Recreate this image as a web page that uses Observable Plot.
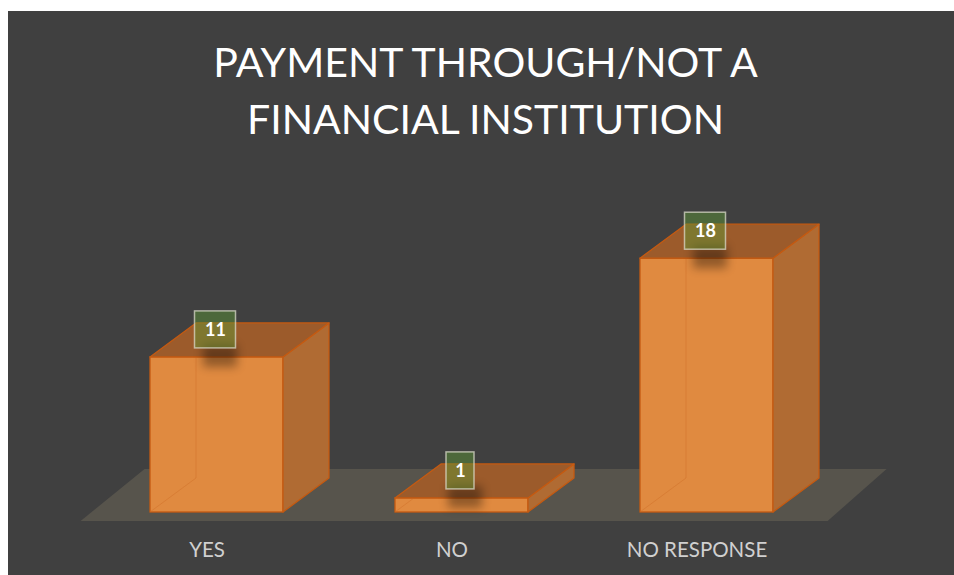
<!DOCTYPE html>
<html><head><meta charset="utf-8">
<script src="https://cdn.jsdelivr.net/npm/d3@7"></script>
<script src="https://cdn.jsdelivr.net/npm/@observablehq/plot@0.6"></script>
<style>
html,body{margin:0;padding:0;background:#fff;}
#frame{position:absolute;left:8px;top:11px;width:946px;height:564px;background:#404040;overflow:hidden;}
#title{position:absolute;left:0;top:0;width:955px;padding-top:22px;text-align:center;color:#fff;font-family:Lato,"Open Sans",sans-serif;font-size:41px;line-height:57px;}
#chart{position:absolute;left:0;top:139px;}
</style></head>
<body>
<div id="frame">
  <div id="title">PAYMENT THROUGH/NOT A<br>FINANCIAL INSTITUTION</div>
  <div id="chart"></div>
</div>
<script>
const categories = ["YES", "NO", "NO RESPONSE"];
const values = [11, 1, 18];
const data = categories.map((c, i) => ({category: c, value: values[i]}));

// 3-D look (pixel depth of the oblique projection)
const DX = 46, DY = -34;
const FRONT = "#E08A40", TOP = "#9C5B2B", SIDE = "#B06B33", EDGE = "#C55A11";

function floorMark(index, scales) {
  const x = scales.x, y = scales.y;
  const [r0, r1] = x.range();
  const y0 = y(0);
  const g = d3.create("svg:g");
  g.append("polygon")
    .attr("points", [[r0 + 44, y0 + 9], [r1 - 58, y0 + 9], [r1 + 1, y0 - 43], [r0 + 108, y0 - 43]].join(" "))
    .attr("fill", "#57544C");
  return g.node();
}

function depthMark(index, scales) {
  const x = scales.x, y = scales.y, bw = x.bandwidth();
  const y0 = y(0);
  const g = d3.create("svg:g");
  const defs = g.append("defs");
  defs.append("filter").attr("id", "blur").attr("x", "-50%").attr("y", "-50%").attr("width", "200%").attr("height", "200%")
    .append("feGaussianBlur").attr("stdDeviation", 5);
  data.forEach(d => {
    const x0 = x(d.category), x1 = x0 + bw, yv = y(d.value);
    g.append("polyline")
      .attr("points", [[x0, y0], [x0 + DX, y0 + DY], [x0 + DX, yv]].join(" "))
      .attr("fill", "none").attr("stroke", "#D2722A").attr("stroke-opacity", 0.5).attr("stroke-width", 1);
    g.append("polygon")
      .attr("points", [[x1, y0], [x1, yv], [x1 + DX, yv + DY], [x1 + DX, y0 + DY]].join(" "))
      .attr("fill", SIDE).attr("stroke", EDGE).attr("stroke-width", 1.3).attr("stroke-linejoin", "round");
    g.append("polygon")
      .attr("points", [[x0, yv], [x1, yv], [x1 + DX, yv + DY], [x0 + DX, yv + DY]].join(" "))
      .attr("fill", TOP).attr("stroke", EDGE).attr("stroke-width", 1.3).attr("stroke-linejoin", "round");
  });
  return g.node();
}

function labelBoxMark(index, scales) {
  const x = scales.x, y = scales.y, bw = x.bandwidth();
  const g = d3.create("svg:g");
  data.forEach(d => {
    const cx = x(d.category) + bw / 2 - 1.5, yv = y(d.value);
    const w = 15 + 13 * String(d.value).length, h = 37;
    g.append("rect")
      .attr("x", cx - 12).attr("y", yv - 12).attr("width", 34).attr("height", 22)
      .attr("fill", "#000").attr("opacity", 0.35).attr("filter", "url(#blur)");
    g.append("rect")
      .attr("x", cx - w / 2).attr("y", yv - 9 - h).attr("width", w).attr("height", h)
      .attr("fill", "#5E9A36").attr("fill-opacity", 0.45)
      .attr("stroke", "#D8D8C8").attr("stroke-opacity", 0.75).attr("stroke-width", 1.5);
  });
  return g.node();
}

const chart = Plot.plot({
  width: 946,
  height: 425,
  marginLeft: 28.6,
  marginRight: 68.4,
  marginTop: 80,
  marginBottom: 63,
  style: {background: "transparent", fontFamily: "Lato, 'Open Sans', sans-serif", overflow: "visible"},
  x: {domain: categories, padding: 0.458},
  y: {domain: [0, 20], axis: null},
  marks: [
    floorMark,
    Plot.barY(data, {x: "category", y: "value", fill: FRONT, stroke: EDGE, strokeWidth: 1.3}),
    depthMark,
    labelBoxMark,
    Plot.text(data, {x: "category", y: "value", text: d => String(d.value), dy: -27.5, dx: -1.5,
      fill: "white", fontWeight: "bold", fontSize: 18}),
    Plot.axisX({tickSize: 0, tickPadding: 30, dx: -10, fontSize: 20.5, fill: "#D0D0D0", label: null})
  ]
});
document.getElementById("chart").appendChild(chart);
</script>
</body></html>
